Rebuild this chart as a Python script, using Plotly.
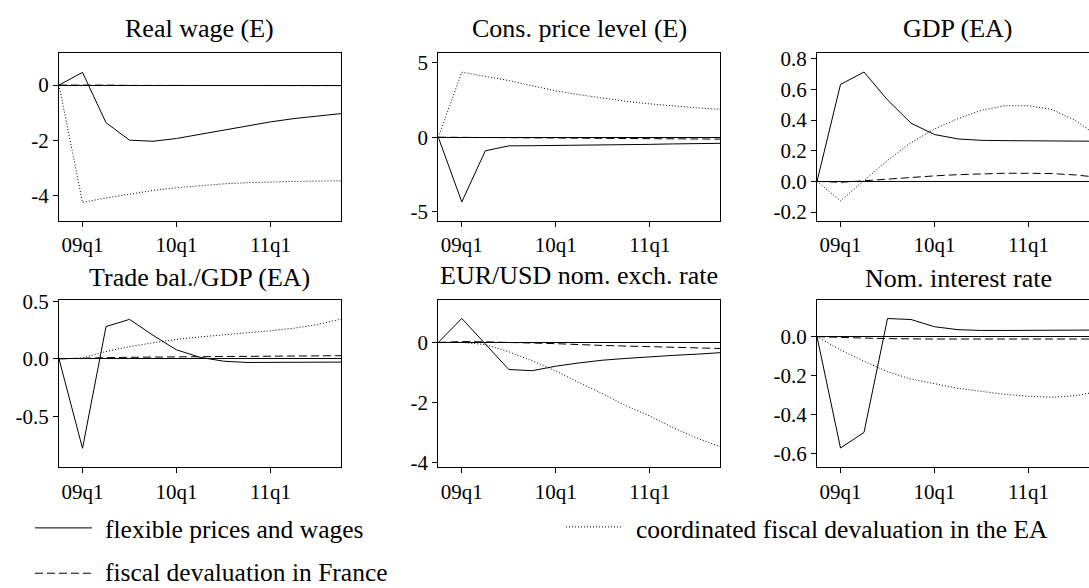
import plotly.graph_objects as go

# Impulse responses, deviations from baseline, 2008q4 .. 2011q4
quarters = ["08q4", "09q1", "09q2", "09q3", "09q4", "10q1", "10q2",
            "10q3", "10q4", "11q1", "11q2", "11q3", "11q4"]
tick_quarters = ["09q1", "10q1", "11q1"]

series_names = ["flexible prices and wages",
                "fiscal devaluation in France",
                "coordinated fiscal devaluation in the EA"]

real_wage_flex = [0, 0.46, -1.36, -1.99, -2.03, -1.93, -1.78, -1.63, -1.47, -1.33, -1.21, -1.11, -1.03]
real_wage_fd = [0, 0.01, 0.0, -0.01, -0.01, -0.02, -0.02, -0.02, -0.02, -0.02, -0.02, -0.02, -0.02]
real_wage_coord = [0, -4.24, -4.08, -3.94, -3.81, -3.71, -3.63, -3.57, -3.53, -3.50, -3.48, -3.47, -3.46]

price_flex = [0, -4.33, -0.91, -0.58, -0.57, -0.56, -0.54, -0.52, -0.50, -0.48, -0.45, -0.43, -0.41]
price_fd = [0, -0.01, -0.02, -0.03, -0.04, -0.05, -0.06, -0.07, -0.08, -0.09, -0.10, -0.12, -0.13]
price_coord = [0, 4.35, 4.07, 3.79, 3.44, 3.10, 2.84, 2.61, 2.40, 2.23, 2.08, 1.96, 1.86]

gdp_flex = [0, 0.633, 0.714, 0.532, 0.380, 0.306, 0.277, 0.268, 0.266, 0.265, 0.264, 0.263, 0.262]
gdp_fd = [0, -0.006, 0.004, 0.015, 0.027, 0.036, 0.044, 0.050, 0.053, 0.053, 0.051, 0.042, 0.026]
gdp_coord = [0, -0.127, 0.005, 0.137, 0.253, 0.342, 0.410, 0.464, 0.494, 0.494, 0.469, 0.397, 0.29]

tb_flex = [0, -0.78, 0.282, 0.345, 0.206, 0.079, 0.014, -0.020, -0.031, -0.031, -0.031, -0.030, -0.028]
tb_fd = [0, 0.008, 0.011, 0.014, 0.017, 0.018, 0.020, 0.021, 0.022, 0.023, 0.025, 0.026, 0.028]
tb_coord = [0, 0.008, 0.065, 0.107, 0.141, 0.170, 0.192, 0.209, 0.226, 0.246, 0.268, 0.300, 0.347]

fx_flex = [0, 0.80, -0.05, -0.90, -0.94, -0.79, -0.68, -0.59, -0.53, -0.47, -0.43, -0.39, -0.34]
fx_fd = [0, 0.03, 0.02, -0.01, -0.02, -0.04, -0.08, -0.10, -0.12, -0.14, -0.16, -0.18, -0.20]
fx_coord = [0, 0.0, -0.07, -0.31, -0.61, -0.95, -1.34, -1.71, -2.11, -2.45, -2.84, -3.18, -3.47]

rate_flex = [0, -0.57, -0.49, 0.093, 0.088, 0.051, 0.036, 0.032, 0.032, 0.033, 0.033, 0.034, 0.034]
rate_fd = [0, -0.005, -0.007, -0.010, -0.012, -0.012, -0.012, -0.012, -0.012, -0.012, -0.012, -0.012, -0.012]
rate_coord = [0, -0.068, -0.126, -0.179, -0.217, -0.242, -0.264, -0.280, -0.295, -0.305, -0.310, -0.302, -0.28]

titles = ["Real wage (E)", "Cons. price level (E)", "GDP (EA)",
          "Trade bal./GDP (EA)", "EUR/USD nom. exch. rate", "Nom. interest rate"]
panel_series = [
    (real_wage_flex, real_wage_fd, real_wage_coord),
    (price_flex, price_fd, price_coord),
    (gdp_flex, gdp_fd, gdp_coord),
    (tb_flex, tb_fd, tb_coord),
    (fx_flex, fx_fd, fx_coord),
    (rate_flex, rate_fd, rate_coord),
]
y_tickvals = [[-4, -2, 0], [-5, 0, 5], [-0.2, 0, 0.2, 0.4, 0.6, 0.8],
              [-0.5, 0, 0.5], [-4, -2, 0], [-0.6, -0.4, -0.2, 0]]
y_ticktext = [["-4", "-2", "0"], ["-5", "0", "5"],
              ["-0.2", "0.0", "0.2", "0.4", "0.6", "0.8"],
              ["-0.5", "0.0", "0.5"], ["-4", "-2", "0"],
              ["-0.6", "-0.4", "-0.2", "0.0"]]
y_ranges = [[-4.92, 1.17], [-5.62, 5.65], [-0.26, 0.84],
            [-0.947, 0.517], [-4.158, 1.424], [-0.669, 0.1895]]

W, H = 1089, 588
FONT = "Liberation Serif"
TICK_FONT = dict(family=FONT, size=21, color="black")
TITLE_SIZE = 26
KEY_SIZE = 25.5
# panel frames in pixels: left, right, top, bottom
frames = [
    (59, 341, 44, 217.5), (438.3, 720.3, 44, 217.5), (817, 1089, 44, 217.5),
    (59, 341, 298.3, 471), (438.3, 720.3, 298.3, 471), (817, 1089, 298.3, 471),
]
QPX = 23.5  # pixels per quarter
title_base = [30, 30, 30, 286, 284, 287.5]

styles = [dict(color="black", width=1),
          dict(color="black", width=1, dash="8px,4px"),
          dict(color="black", width=1, dash="1px,2px")]

fig = go.Figure()
layout = dict(width=W, height=H, margin=dict(l=0, r=0, t=0, b=0),
              paper_bgcolor="white", plot_bgcolor="white",
              font=dict(family=FONT, size=21, color="black"), showlegend=False)
annotations = []
shapes = []

for i, (title, series) in enumerate(zip(titles, panel_series)):
    n = "" if i == 0 else str(i + 1)
    x0, x1, top, bot = frames[i]
    right_open = x1 >= W
    for name, vals, st in zip(series_names, series, styles):
        fig.add_trace(go.Scatter(x=quarters, y=vals, mode="lines", line=st,
                                 name=name, xaxis="x" + n, yaxis="y" + n))
    layout["xaxis" + n] = dict(
        domain=[x0 / W, x1 / W], anchor="y" + n, type="category",
        range=[0, (x1 - x0) / QPX], tickvals=tick_quarters, ticktext=tick_quarters,
        showline=True, linecolor="black", linewidth=1, mirror=True,
        ticks="outside", ticklen=5, tickcolor="black", showgrid=False,
        zeroline=False, tickfont=TICK_FONT)
    layout["yaxis" + n] = dict(
        domain=[1 - bot / H, 1 - top / H], anchor="x" + n, range=y_ranges[i],
        tickvals=y_tickvals[i], ticktext=y_ticktext[i],
        showline=True, linecolor="black", linewidth=1,
        mirror=False if right_open else True,
        ticks="outside", ticklen=5, tickcolor="black", showgrid=False,
        zeroline=True, zerolinecolor="black", zerolinewidth=1,
        tickfont=TICK_FONT)
    annotations.append(dict(
        text=title, xref="paper", yref="paper",
        x=(x0 + (x0 + 282)) / 2 / W, y=1 - (title_base[i] + 6) / H,
        xanchor="center", yanchor="bottom", showarrow=False,
        font=dict(family=FONT, size=TITLE_SIZE, color="black")))

# key below the panels
legend_rows = [(35, 92, 533.3, 103, 535), (35, 92, 580, 103, 579), (566, 621, 532.3, 634, 535)]
for name, st, (lx0, lx1, ly, tx, ty) in zip(series_names, styles, legend_rows):
    shapes.append(dict(type="line", xref="paper", yref="paper",
                       x0=lx0 / W, x1=lx1 / W, y0=1 - ly / H, y1=1 - ly / H,
                       line=st))
    annotations.append(dict(text=name, xref="paper", yref="paper",
                            x=tx / W, y=1 - ty / H, xanchor="left", yanchor="middle",
                            showarrow=False,
                            font=dict(family=FONT, size=KEY_SIZE, color="black")))

layout["annotations"] = annotations
layout["shapes"] = shapes
fig.update_layout(**layout)
fig.write_html("out.html")
